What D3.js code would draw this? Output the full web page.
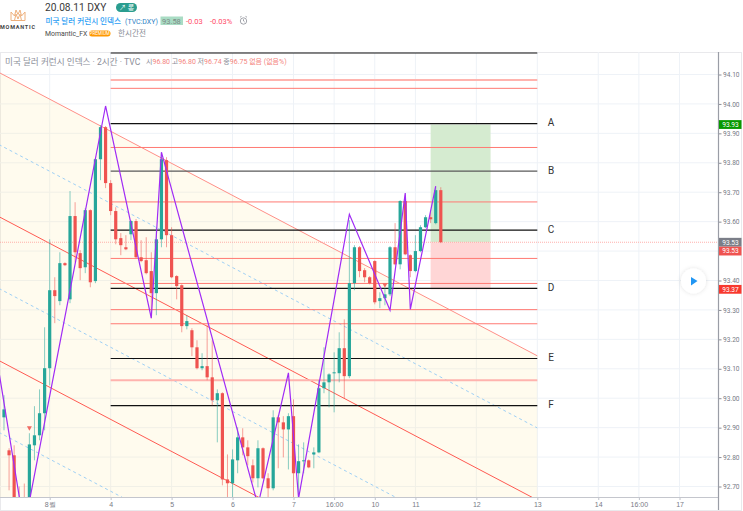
<!DOCTYPE html>
<html><head><meta charset="utf-8">
<script src="https://cdn.jsdelivr.net/npm/d3@7"></script>
<style>html,body{margin:0;padding:0;background:#fff}svg{display:block;font-family:Roboto,"Noto Sans CJK KR",sans-serif}</style>
</head><body><div id="c"></div>
<script>
// ---------- data ----------
const firstBar = -9;
const opens = [92.935,92.823,92.806,92.60,92.58,92.585,92.840,92.874,92.949,93.102,93.367,93.330,93.459,93.336,93.619,93.493,93.445,93.639,93.398,93.812,93.921,93.731,93.636,93.544,93.513,93.557,93.602,93.479,93.469,93.432,93.357,93.540,93.809,93.554,93.415,93.384,93.245,93.231,93.173,93.102,93.109,93.071,92.993,93.017,92.724,92.711,92.789,92.867,92.833,92.772,92.728,92.830,92.728,92.694,92.935,92.918,92.894,92.939,92.745,92.786,92.789,92.809,92.816,93.034,93.054,93.085,93.085,93.170,93.075,93.391,93.513,93.435,93.411,93.466,93.330,93.340,93.353,93.513,93.455,93.670,93.486,93.432,93.500,93.581,93.615,93.595,93.707];
const highs = [93.010,92.830,92.840,92.70,92.71,92.881,92.973,93.030,93.241,93.540,93.411,93.496,93.462,93.704,93.666,93.503,93.646,93.642,93.816,93.928,93.925,93.741,93.649,93.561,93.554,93.605,93.609,93.537,93.547,93.496,93.581,93.833,93.819,93.581,93.418,93.387,93.282,93.238,93.197,93.153,93.248,93.197,93.030,93.020,92.809,92.826,92.901,92.898,92.857,92.792,92.857,92.833,92.745,92.959,92.942,92.939,92.949,92.996,92.843,92.850,92.792,92.833,93.061,93.173,93.085,93.156,93.224,93.268,93.605,93.520,93.517,93.442,93.415,93.469,93.360,93.374,93.517,93.595,93.673,93.690,93.489,93.554,93.588,93.622,93.632,93.717,93.717];
const lows = [92.891,92.687,92.60,92.52,92.50,92.57,92.789,92.857,92.891,93.044,93.255,93.316,93.449,93.323,93.462,93.401,93.425,93.377,93.391,93.741,93.714,93.622,93.523,93.486,93.503,93.537,93.476,93.462,93.421,93.272,93.282,93.513,93.513,93.408,93.336,93.224,93.234,93.143,93.098,93.095,93.061,92.976,92.850,92.704,92.653,92.619,92.745,92.806,92.772,92.714,92.697,92.725,92.663,92.687,92.762,92.799,92.758,92.663,92.653,92.745,92.762,92.762,92.813,93.017,92.969,92.952,93.054,92.999,93.068,93.367,93.411,93.394,93.387,93.319,93.306,93.316,93.347,93.452,93.438,93.486,93.411,93.428,93.496,93.578,93.595,93.591,93.527];
const closes = [92.962,92.806,92.65,92.55,92.55,92.843,92.874,92.949,93.102,93.367,93.347,93.459,93.452,93.619,93.496,93.442,93.639,93.394,93.812,93.921,93.731,93.636,93.540,93.520,93.506,93.602,93.479,93.466,93.425,93.357,93.540,93.812,93.554,93.411,93.381,93.245,93.262,93.173,93.102,93.109,93.071,92.993,93.017,92.724,92.711,92.792,92.867,92.833,92.803,92.728,92.830,92.728,92.694,92.935,92.918,92.894,92.939,92.745,92.786,92.789,92.765,92.816,93.034,93.054,93.081,93.088,93.170,93.075,93.391,93.513,93.432,93.411,93.391,93.326,93.340,93.353,93.513,93.455,93.670,93.489,93.432,93.500,93.581,93.615,93.608,93.707,93.530];
const zigIdx   = [-15,-5,11,20,22,41,47,49,59,67,70,71,76];
const zigPrice = [93.622,92.56,93.993,93.272,93.836,92.636,93.086,92.66,93.625,93.299,93.697,93.302,93.721];
const chanIdx = [-10,96];
const chanSolidStart = [94.107,93.617,93.128];
const chanSolidEnd   = [93.144,92.654,92.165];
const chanDashStart  = [93.862,93.373,92.884];
const chanDashEnd    = [92.899,92.41,91.92];
const levelIdx = [12,96];
const blackLevels = [94.173,93.933,93.772,93.571,93.373,93.135,92.975];
const redLevels = [94.053,93.852,93.667,93.475,93.390,93.301,93.253];
const paleLevels = [94.081,93.061];
const letters = ["A","B","C","D","E","F"];
const letterLevels = [93.933,93.772,93.571,93.373,93.135,92.975];
const boxIdx = [75,86.8];
const boxPrices = [93.93,93.53,93.37];
const currentPrice = 93.53;
const markerIdx = [-4,66];
const markerPrice = [92.898,93.384];
const priceTicks = [94.1,94.0,93.9,93.8,93.7,93.6,93.5,93.4,93.3,93.2,93.1,93.0,92.9,92.8,92.7];
const timeTickIdx = [0,12,24,36,48,56,64,72,84,96,108,116,124];
const timeTickLabels = ["8월","4","5","6","7","16:00","10","11","12","13","14","16:00","17"];
const priceTags = [["93.93",93.93,"#089900"],["93.53",93.53,"#7b7e88"],["93.53",93.50,"#ef5350"],["93.37",93.37,"#f8382e"]];

// ---------- scales ----------
const W=743,H=511;
const plot={l:0,r:718,t:52,b:497};
const x=d3.scaleLinear().domain([0,96]).range([49.7,537.3]);
const y=d3.scaleLinear().domain([94.1,92.7]).range([74.5,486.5]);
const svg=d3.select("#c").append("svg").attr("width",W).attr("height",H);
svg.append("defs").append("clipPath").attr("id","clip").append("rect")
  .attr("x",plot.l).attr("y",plot.t).attr("width",plot.r-plot.l).attr("height",plot.b-plot.t);
svg.append("defs").append("filter").attr("id","sh").attr("x","-50%").attr("y","-50%").attr("width","200%").attr("height","200%")
  .append("feDropShadow").attr("dx",0).attr("dy",0).attr("stdDeviation",2).attr("flood-color","#000").attr("flood-opacity",.12);

// panel frame
svg.append("rect").attr("x",.5).attr("y",52.5).attr("width",741).attr("height",458).attr("fill","#fff").attr("stroke","#e9e9ec");

const g=svg.append("g").attr("clip-path","url(#clip)");
// grid
g.selectAll(".gh").data(priceTicks).join("line").attr("x1",plot.l).attr("x2",plot.r)
  .attr("y1",d=>y(d)).attr("y2",d=>y(d)).attr("stroke","#eef2f7").attr("stroke-width",1);
g.selectAll(".gv").data(timeTickIdx).join("line").attr("y1",plot.t).attr("y2",plot.b)
  .attr("x1",d=>x(d)).attr("x2",d=>x(d)).attr("stroke","#eef2f7").attr("stroke-width",1);

// channel fill
const topAtEnd=chanSolidEnd[0], topAtStart=chanSolidStart[0];
g.append("path").attr("fill","rgba(255,235,170,0.2)").attr("d",d3.line()([
  [x(chanIdx[0]),y(topAtStart)],[x(chanIdx[1]),y(topAtEnd)],[x(chanIdx[1]),plot.b],[x(chanIdx[0]),plot.b]]));

// channel lines
chanSolidStart.forEach((s,k)=>{
  g.append("line").attr("x1",x(chanIdx[0])).attr("y1",y(s)).attr("x2",x(chanIdx[1])).attr("y2",y(chanSolidEnd[k]))
   .attr("stroke",k==0?"#ff8f88":"#ff5a52").attr("stroke-width",1);
});
chanDashStart.forEach((s,k)=>{
  g.append("line").attr("x1",x(chanIdx[0])).attr("y1",y(s)).attr("x2",x(chanIdx[1])).attr("y2",y(chanDashEnd[k]))
   .attr("stroke","#9fd0f5").attr("stroke-width",1).attr("stroke-dasharray","3 3");
});

// position boxes
g.append("rect").attr("x",x(boxIdx[0])).attr("width",x(boxIdx[1])-x(boxIdx[0]))
  .attr("y",y(boxPrices[0])).attr("height",y(boxPrices[1])-y(boxPrices[0])).attr("fill","#d5ebd0");
g.append("rect").attr("x",x(boxIdx[0])).attr("width",x(boxIdx[1])-x(boxIdx[0]))
  .attr("y",y(boxPrices[1])).attr("height",y(boxPrices[2])-y(boxPrices[1])).attr("fill","#ffd6d6");

// horizontal levels
g.selectAll(".pale").data(paleLevels).join("line").attr("x1",x(levelIdx[0])).attr("x2",x(levelIdx[1]))
  .attr("y1",d=>y(d)).attr("y2",d=>y(d)).attr("stroke","#ffb3ae").attr("stroke-width",2);
g.selectAll(".red").data(redLevels).join("line").attr("x1",x(levelIdx[0])).attr("x2",x(levelIdx[1]))
  .attr("y1",d=>y(d)).attr("y2",d=>y(d)).attr("stroke","#ff7a73").attr("stroke-width",1);
g.selectAll(".blk").data(blackLevels).join("line").attr("x1",x(levelIdx[0])).attr("x2",x(levelIdx[1]))
  .attr("y1",d=>y(d)).attr("y2",d=>y(d)).attr("stroke",(d,i)=>i==2?"#5a5a5a":"#111").attr("stroke-width",1.2);

// current price line
g.append("line").attr("x1",plot.l).attr("x2",plot.r).attr("y1",y(currentPrice)).attr("y2",y(currentPrice))
  .attr("stroke","#ff9c97").attr("stroke-width",1).attr("stroke-dasharray","1 1").attr("opacity",.8);

// candles
const bars=opens.map((o,k)=>({i:firstBar+k,o,h:highs[k],l:lows[k],c:closes[k]}));
const col=d=>d.c>=d.o?"#26a69a":"#ef5350";
g.selectAll(".wick").data(bars).join("line")
  .attr("x1",d=>x(d.i)).attr("x2",d=>x(d.i)).attr("y1",d=>y(d.h)).attr("y2",d=>y(d.l))
  .attr("stroke",col).attr("stroke-opacity",.55).attr("stroke-width",1);
g.selectAll(".body").data(bars).join("rect")
  .attr("x",d=>x(d.i)-1.6).attr("width",3.2)
  .attr("y",d=>y(Math.max(d.o,d.c))).attr("height",d=>Math.max(1,Math.abs(y(d.o)-y(d.c))))
  .attr("fill",col);

// zigzag
g.append("path").attr("fill","none").attr("stroke","#a02bf5").attr("stroke-width",1.2)
  .attr("d",d3.line().x((d,k)=>x(zigIdx[k])).y(d=>y(d))(zigPrice));

// markers
g.selectAll(".mk").data(markerIdx).join("path")
  .attr("transform",(d,k)=>`translate(${x(d)},${y(markerPrice[k])})`)
  .attr("d","M-2.5,-2 L2.5,-2 L0,2.5 Z").attr("fill","#f06a62");

// letters
svg.selectAll(".let").data(letters).join("text").attr("x",551).attr("y",(d,k)=>y(letterLevels[k])+2.5)
  .attr("text-anchor","middle").attr("font-size",10).attr("fill","#333").text(d=>d);

// axes
const ay=svg.append("g").attr("transform",`translate(${plot.r+.5},0)`)
  .call(d3.axisRight(y).tickValues(priceTicks).tickFormat(d3.format(".2f")).tickSize(3).tickPadding(1.5));
ay.select(".domain").remove();
ay.selectAll("line").attr("stroke","#8b8e98");
ay.selectAll("text").attr("font-size",6.6).attr("fill","#787b86").attr("font-family","Roboto,sans-serif");
const ax=svg.append("g").attr("transform",`translate(0,${plot.b})`)
  .call(d3.axisBottom(x).tickValues(timeTickIdx).tickFormat((d,k)=>timeTickLabels[k]).tickSize(3).tickPadding(2));
ax.select(".domain").remove();
ax.selectAll("line").attr("stroke","#bfc2ca");
ax.selectAll("text").attr("font-size",7).attr("fill","#787b86");
svg.append("line").attr("x1",0).attr("x2",plot.r).attr("y1",plot.b+.5).attr("y2",plot.b+.5).attr("stroke","#c4c6cd").attr("stroke-width",1.2);
svg.append("line").attr("x1",plot.r+.5).attr("x2",plot.r+.5).attr("y1",plot.t).attr("y2",510).attr("stroke","#9a9da6").attr("stroke-width",1.2);

// price tags
const tags=svg.selectAll(".tag").data(priceTags).join("g").attr("transform",d=>`translate(${plot.r+1},${y(d[1])})`);
tags.append("rect").attr("x",0).attr("y",-4.4).attr("width",22.5).attr("height",8.8).attr("fill",d=>d[2]);
tags.append("text").attr("x",11.5).attr("y",2.4).attr("text-anchor","middle").attr("font-size",6.6).attr("fill","#fff").text(d=>d[0]);

// play button
svg.append("circle").attr("cx",693.5).attr("cy",281).attr("r",12.5).attr("fill","#fff").attr("filter","url(#sh)");
svg.append("path").attr("d","M691,277 L697.5,281 L691,285.5 Z").attr("fill","#2196f3");

// legend in chart
svg.append("text").attr("x",5).attr("y",64.5).attr("font-size",8.6).attr("fill","#8b8e98").text("미국 달러 커런시 인덱스 · 2시간 · TVC");
const lg=svg.append("text").attr("x",146).attr("y",64).attr("font-size",7);
[["시","#8b8e98"],["96.80","#f4847e"],[" 고","#8b8e98"],["96.80","#f4847e"],[" 저","#8b8e98"],["96.74","#f4847e"],[" 종","#8b8e98"],["96.75","#f4847e"],[" 없음 (없음%)","#f4847e"]]
  .forEach(t=>lg.append("tspan").attr("fill",t[1]).text(t[0]));

// header
svg.append("text").attr("x",45).attr("y",11).attr("font-size",10.2).attr("fill","#3a3a3a").text("20.08.11 DXY");
svg.append("rect").attr("x",116).attr("y",3).attr("width",21).attr("height",9).attr("rx",4.5).attr("fill","#2a9d8f");
svg.append("text").attr("x",126.5).attr("y",10).attr("text-anchor","middle").attr("font-size",7).attr("fill","#fff").text("↗ 롱");
svg.append("text").attr("x",45.5).attr("y",24).attr("font-size",7.6).attr("font-weight",500).attr("fill","#2a9df4").text("미국 달러 커런시 인덱스");
svg.append("text").attr("x",125).attr("y",24).attr("font-size",7).attr("fill","#2d7fc4").text("(TVC:DXY)");
svg.append("rect").attr("x",160.5).attr("y",16.5).attr("width",22.5).attr("height",8.5).attr("fill","#a9dcc4");
svg.append("text").attr("x",162).attr("y",23.5).attr("font-size",7.5).attr("fill","#7d8a86").text("93.58");
svg.append("text").attr("x",186).attr("y",23.5).attr("font-size",7.5).attr("fill","#ff4a68").text("-0.03");
svg.append("text").attr("x",210).attr("y",23.5).attr("font-size",7.5).attr("fill","#ff4a68").text("-0.03%");
const clk=svg.append("g").attr("transform","translate(243.5,21)").attr("fill","none").attr("stroke","#8a8d96").attr("stroke-width",.8);
clk.append("circle").attr("r",3.2);clk.append("path").attr("d","M0,-1.8V0L1.2,1M-3.5,-3.8L-2,-4.6M3.5,-3.8L2,-4.6");
svg.append("text").attr("x",45).attr("y",35.5).attr("font-size",6.9).attr("fill","#4a4a4a").text("Momantic_FX");
svg.append("rect").attr("x",89).attr("y",30.5).attr("width",21.5).attr("height",6).attr("rx",3).attr("fill","#ff9800");
svg.append("text").attr("x",99.7).attr("y",35.3).attr("text-anchor","middle").attr("font-size",4.5).attr("fill","#fff").text("PREMIUM");
svg.append("text").attr("x",118).attr("y",35.5).attr("font-size",7.6).attr("fill","#8a8d96").text("한시간전");
// logo
svg.append("path").attr("fill","none").attr("stroke","#eeb07c").attr("stroke-width",1)
  .attr("d","M11,20.5 L11,12 L14.5,16 L16,10 L18,14.5 L20,10 L21.5,16 L25,12 L25,20.5 Z M14.5,20.5 L16,14 L18,19 L20,14 L21.5,20.5");
svg.append("text").attr("x",0).attr("y",28.5).attr("font-size",5.5).attr("font-weight",700).attr("fill","#444").attr("textLength",35).text("MOMANTIC");
</script></body></html>
